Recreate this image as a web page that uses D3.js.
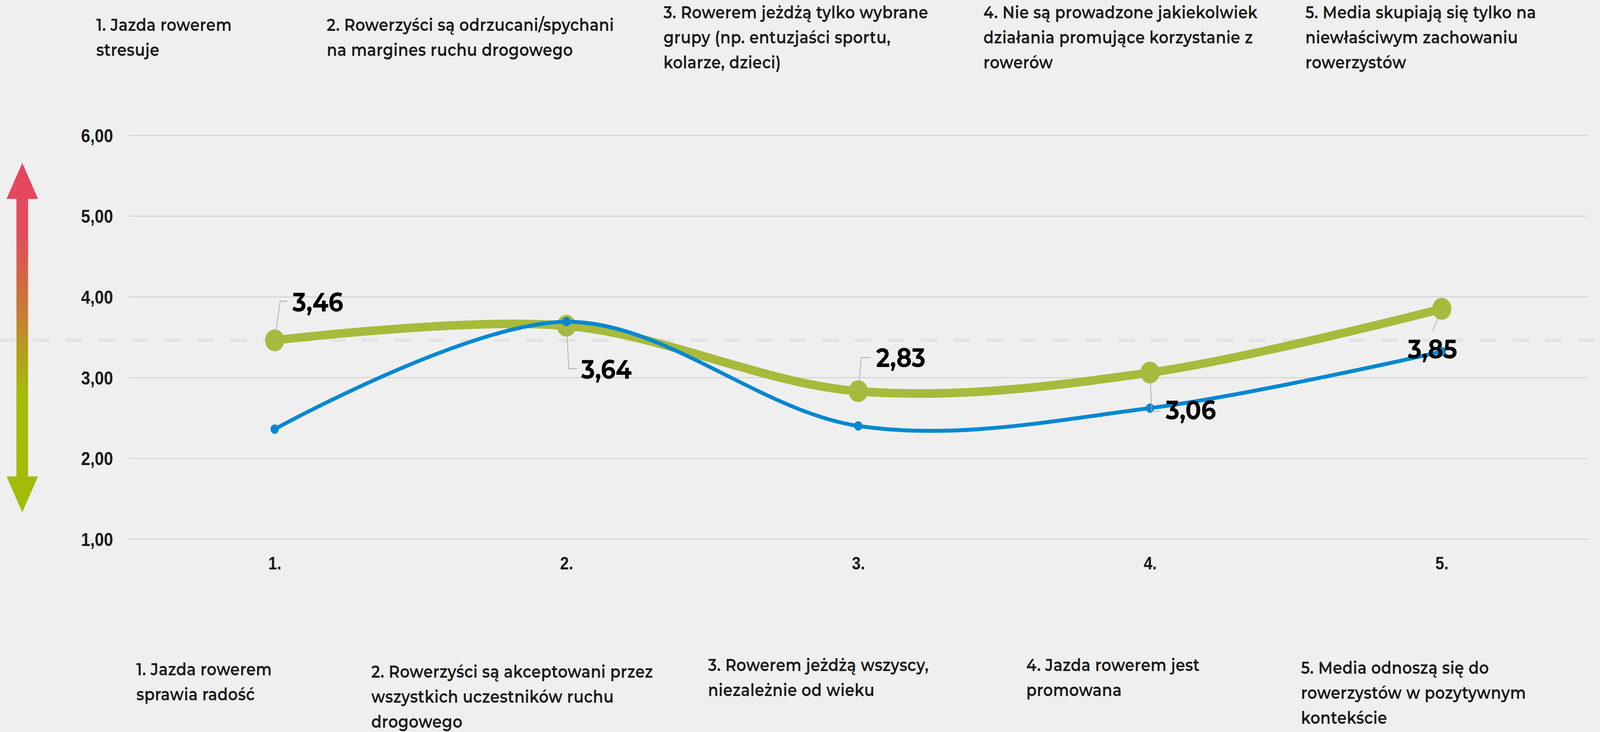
<!DOCTYPE html>
<html>
<head>
<meta charset="utf-8">
<script src="https://cdn.jsdelivr.net/npm/d3@7"></script>
<style>
  html, body { margin: 0; padding: 0; background: #efefef; overflow: hidden; }
  svg { display: block; width: 100vw; height: 100vh; font-family: Montserrat, "Open Sans", sans-serif; }
</style>
</head>
<body>
<svg id="chart" viewBox="0 0 4671 1873" preserveAspectRatio="none"></svg>
<script>
// data
const categories = ['1.', '2.', '3.', '4.', '5.'];
const greenValues = [3.46, 3.64, 2.83, 3.06, 3.85];
const blueValues = [2.36, 3.69, 2.40, 2.62, 3.32];
const yTicks = [1, 2, 3, 4, 5, 6];
const referenceValue = 3.46;

const topLabels = [
    ['1. Jazda rowerem', 'stresuje'],
    ['2. Rowerzyści są odrzucani/spychani', 'na margines ruchu drogowego'],
    ['3. Rowerem jeżdżą tylko wybrane', 'grupy (np. entuzjaści sportu,', 'kolarze, dzieci)'],
    ['4. Nie są prowadzone jakiekolwiek', 'działania promujące korzystanie z', 'rowerów'],
    ['5. Media skupiają się tylko na', 'niewłaściwym zachowaniu', 'rowerzystów']
];
const bottomLabels = [
    ['1. Jazda rowerem', 'sprawia radość'],
    ['2. Rowerzyści są akceptowani przez', 'wszystkich uczestników ruchu', 'drogowego'],
    ['3. Rowerem jeżdżą wszyscy,', 'niezależnie od wieku'],
    ['4. Jazda rowerem jest', 'promowana'],
    ['5. Media odnoszą się do', 'rowerzystów w pozytywnym', 'kontekście']
];

// layout (positions of text blocks and value callouts)
const topLabelX = [281, 954, 1937, 2871, 3811];
const bottomLabelX = [398, 1084, 2067, 2996, 3798];
const bottomLabelY = [1728, 1734, 1717, 1717, 1724];
const callouts = [
    { leader: [[16, -100], [38, -100]], tx: 52, ty: -74, anchor: 'start' },
    { leader: [[7, 110], [30, 110]], tx: 43, ty: 135, anchor: 'start' },
    { leader: [[9, -86], [36, -86]], tx: 52, ty: -62, anchor: 'start' },
    { leader: [[5, 99], [28, 99]], tx: 46, ty: 120, anchor: 'start' },
    { leader: [[-27, 57]], tx: -27, ty: 127, anchor: 'middle' }
];

const green = '#a8ba3c';
const blue = '#0288d1';
const lineH = 64;

const svg = d3.select('#chart');

const x = d3.scalePoint()
    .domain(categories)
    .range([376, 4635])
    .padding(0.5);

const y = d3.scaleLinear()
    .domain([1, 6])
    .range([1379, 346]);

// gradient for the arrow
const defs = svg.append('defs');
const grad = defs.append('linearGradient')
    .attr('id', 'arrowGrad')
    .attr('x1', 0).attr('y1', 0).attr('x2', 0).attr('y2', 1);
[[0, '#e6465f'], [0.2, '#e24b5b'], [0.42, '#c97a36'], [0.55, '#b2a11a'], [0.66, '#a3bb09'], [1, '#a2bc07']]
    .forEach(([o, c]) => grad.append('stop').attr('offset', o).attr('stop-color', c));

// dashed reference line
svg.append('line')
    .attr('x1', 0).attr('x2', 4671)
    .attr('y1', y(referenceValue)).attr('y2', y(referenceValue))
    .attr('stroke', '#e3e3e3')
    .attr('stroke-width', 8)
    .attr('stroke-dasharray', '48,48');

// arrow
const ax = 65;
svg.append('path')
    .attr('d', `M${ax},417 L${ax + 46},509 L${ax + 17},509 L${ax + 17},1219 L${ax + 46},1219 L${ax},1311 `
        + `L${ax - 46},1219 L${ax - 17},1219 L${ax - 17},509 L${ax - 46},509 Z`)
    .attr('fill', 'url(#arrowGrad)');

// gridlines + y axis labels
const yAxis = svg.append('g')
    .attr('transform', 'translate(376,0)')
    .call(d3.axisLeft(y)
        .tickValues(yTicks)
        .tickSize(-(4635 - 376))
        .tickPadding(46)
        .tickFormat(d => d3.format('.2f')(d).replace('.', ',')));
yAxis.select('.domain').remove();
yAxis.selectAll('.tick line')
    .attr('stroke', '#d3d3d3')
    .attr('stroke-width', 2.5);
yAxis.selectAll('.tick text')
    .attr('fill', '#1a1a1a')
    .style('font-size', '48px')
    .style('font-weight', 700)
    .attr('dy', '0.36em');

// x axis labels
const xAxis = svg.append('g')
    .attr('transform', 'translate(0,1379)')
    .call(d3.axisBottom(x).tickSize(0).tickPadding(0));
xAxis.select('.domain').remove();
xAxis.selectAll('.tick text')
    .attr('fill', '#1a1a1a')
    .attr('y', 78)
    .attr('dy', 0)
    .style('font-size', '46px')
    .style('font-weight', 700);

const line = d3.line()
    .x((d, i) => x(categories[i]))
    .y(d => y(d))
    .curve(d3.curveCatmullRom.alpha(0));

// green series
svg.append('path')
    .datum(greenValues)
    .attr('fill', 'none')
    .attr('stroke', green)
    .attr('stroke-width', 22)
    .attr('d', line);
svg.selectAll('.gdot')
    .data(greenValues)
    .join('circle')
    .attr('class', 'gdot')
    .attr('cx', (d, i) => x(categories[i]))
    .attr('cy', d => y(d))
    .attr('r', 28)
    .attr('fill', green);

// blue series
svg.append('path')
    .datum(blueValues)
    .attr('fill', 'none')
    .attr('stroke', blue)
    .attr('stroke-width', 10)
    .attr('d', line);
svg.selectAll('.bdot')
    .data(blueValues)
    .join('circle')
    .attr('class', 'bdot')
    .attr('cx', (d, i) => x(categories[i]))
    .attr('cy', d => y(d))
    .attr('r', 12)
    .attr('fill', blue);

// value callouts for the green series
greenValues.forEach((v, i) => {
    const px = x(categories[i]);
    const py = y(v);
    const c = callouts[i];
    const pts = [[px, py]].concat(c.leader.map(([dx, dy]) => [px + dx, py + dy]));
    svg.append('path')
        .attr('d', d3.line()(pts))
        .attr('fill', 'none')
        .attr('stroke', '#a8a8a8')
        .attr('stroke-width', 2);
    svg.append('text')
        .attr('x', px + c.tx)
        .attr('y', py + c.ty)
        .attr('text-anchor', c.anchor)
        .attr('fill', '#000')
        .style('font-size', '68px')
        .style('font-weight', 700)
        .text(d3.format('.2f')(v).replace('.', ','));
});

// statement blocks above and below the chart
function statement(lines, x0, y0) {
    const t = svg.append('text')
        .attr('fill', '#1a1a1a')
        .style('font-size', '44px')
        .style('font-weight', 600)
        .style('letter-spacing', '0.6px');
    lines.forEach((s, j) => {
        t.append('tspan').attr('x', x0).attr('y', y0 + j * lineH).text(s);
    });
}

topLabels.forEach((lines, i) => {
    statement(lines, topLabelX[i], 111 - (lines.length - 1) * lineH / 2);
});

bottomLabels.forEach((lines, i) => {
    statement(lines, bottomLabelX[i], bottomLabelY[i]);
});
</script>
</body>
</html>
